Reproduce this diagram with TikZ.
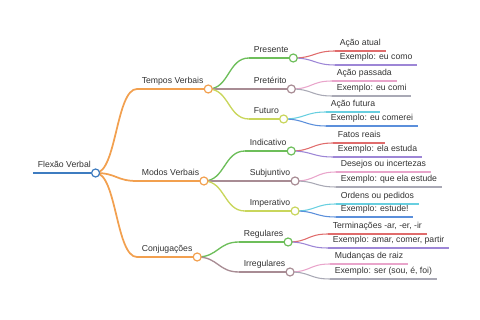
\documentclass[tikz,border=0pt]{standalone}
\usepackage{fontspec}
\setmainfont{Liberation Sans}
\pgfdeclarelayer{bg}
\pgfsetlayers{bg,main}
\definecolor{txtc}{HTML}{333333}
\definecolor{cblue}{HTML}{3E7CC0}
\definecolor{corange}{HTML}{F2A04F}
\definecolor{cgreen}{HTML}{6DBE5A}
\definecolor{cmauve}{HTML}{A88C94}
\definecolor{cyg}{HTML}{C9D65C}
\definecolor{cred}{HTML}{E06C6C}
\definecolor{cpurple}{HTML}{9D86D6}
\definecolor{cpink}{HTML}{E9A5CB}
\definecolor{cgrey}{HTML}{A9A9B5}
\definecolor{ccyan}{HTML}{68CFE0}
\definecolor{cblue2}{HTML}{5B8FDB}
\begin{document}
\begin{tikzpicture}[x=0.75pt,y=-0.75pt,
  txt/.style={anchor=south west, inner xsep=3.4pt, inner ysep=1.3pt,
    text height=1.55ex, text depth=0.45ex,
    font=\fontsize{6.5}{7.5}\selectfont, text=txtc},
  dot/.style={circle, draw=#1, fill=white, line width=0.9pt,
    minimum size=6pt, inner sep=0pt},
  lw0/.style={line width=1.5pt},
  lw1/.style={line width=1.3pt},
  lw2/.style={line width=1pt},
  lw3/.style={line width=0.8pt},
]
\useasboundingbox (0,0) rectangle (480,320);
% root
\node[txt] (root) at (33,173) {Flexão Verbal};
\node[dot=cblue] (rootc) at (root.south east) {};
% level 1
\node[txt] (tv) at (137,89) {Tempos Verbais};
\node[dot=corange] (tvc) at (tv.south east) {};
\node[txt] (mv) at (137,181) {Modos Verbais};
\node[dot=corange] (mvc) at (mv.south east) {};
\node[txt] (cj) at (137,257) {Conjugações};
\node[dot=corange] (cjc) at (cj.south east) {};
% level 2
\node[txt] (pr) at (249,58) {Presente};
\node[dot=cgreen] (prc) at (pr.south east) {};
\node[txt] (pt) at (249,89) {Pretérito};
\node[dot=cmauve] (ptc) at (pt.south east) {};
\node[txt] (fu) at (249,119) {Futuro};
\node[dot=cyg] (fuc) at (fu.south east) {};
\node[txt] (in) at (245,151) {Indicativo};
\node[dot=cgreen] (inc) at (in.south east) {};
\node[txt] (sj) at (245,181) {Subjuntivo};
\node[dot=cmauve] (sjc) at (sj.south east) {};
\node[txt] (im) at (245,211) {Imperativo};
\node[dot=cyg] (imc) at (im.south east) {};
\node[txt] (rg) at (239,242) {Regulares};
\node[dot=cgreen] (rgc) at (rg.south east) {};
\node[txt] (ir) at (239,272) {Irregulares};
\node[dot=cmauve] (irc) at (ir.south east) {};
% level 3
\node[txt] (a1) at (335,51) {Ação atual};
\node[txt] (a2) at (335,65) {Exemplo: eu como};
\node[txt] (b1) at (332,81) {Ação passada};
\node[txt] (b2) at (332,96) {Exemplo: eu comi};
\node[txt] (c1) at (326,112) {Ação futura};
\node[txt] (c2) at (326,126) {Exemplo: eu comerei};
\node[txt] (d1) at (333,143) {Fatos reais};
\node[txt] (d2) at (333,157) {Exemplo: ela estuda};
\node[txt] (e1) at (336,172) {Desejos ou incertezas};
\node[txt] (e2) at (336,187) {Exemplo: que ela estude};
\node[txt] (f1) at (336,204) {Ordens ou pedidos};
\node[txt] (f2) at (336,217) {Exemplo: estude!};
\node[txt] (g1) at (328,234) {Terminações -ar, -er, -ir};
\node[txt] (g2) at (328,248) {Exemplo: amar, comer, partir};
\node[txt] (h1) at (330,264) {Mudanças de raiz};
\node[txt] (h2) at (330,279) {Exemplo: ser (sou, é, foi)};
\begin{pgfonlayer}{bg}
  % root
  \draw[cblue,lw0] (root.south west) -- (rootc.center);
  % level 1 links and lines
  \foreach \n in {tv,mv,cj}{
    \draw[corange,lw1] (rootc.center) .. controls +(21,0) and +(-21,0) .. (\n.south west);
    \draw[corange,lw1] (\n.south west) -- (\n c.center);
  }
  % level 2
  \foreach \p/\n/\c in {tvc/pr/cgreen, tvc/pt/cmauve, tvc/fu/cyg,
                        mvc/in/cgreen, mvc/sj/cmauve, mvc/im/cyg,
                        cjc/rg/cgreen, cjc/ir/cmauve}{
    \draw[\c,lw2] (\p.center) .. controls +(21,0) and +(-21,0) .. (\n.south west);
    \draw[\c,lw2] (\n.south west) -- (\n c.center);
  }
  % level 3
  \foreach \p/\n/\c in {prc/a1/cred, prc/a2/cpurple,
                        ptc/b1/cpink, ptc/b2/cgrey,
                        fuc/c1/ccyan, fuc/c2/cblue2,
                        inc/d1/cred, inc/d2/cpurple,
                        sjc/e1/cpink, sjc/e2/cgrey,
                        imc/f1/ccyan, imc/f2/cblue2,
                        rgc/g1/cred, rgc/g2/cpurple,
                        irc/h1/cpink, irc/h2/cgrey}{
    \draw[\c,lw3] (\p.center) .. controls +(21,0) and +(-21,0) .. (\n.south west);
    \draw[\c,lw3] (\n.south west) -- (\n.south east);
  }
\end{pgfonlayer}
\end{tikzpicture}
\end{document}
